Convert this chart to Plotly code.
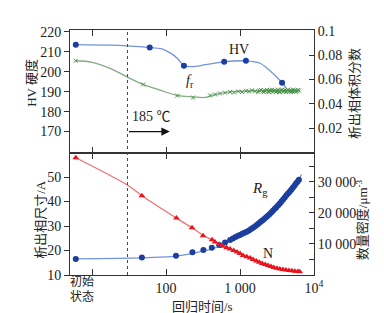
import math
import plotly.graph_objects as go
from plotly.subplots import make_subplots

# ---------------- data (time in s; 6 s = initial state) ----------------
# Top panel: hardness HV (left axis)
hv_time = [6, 60, 174, 610, 1200, 3700]
hv_val = [213.6, 212.2, 203.0, 205.0, 205.5, 194.5]
hv_fit_time = [6, 18, 30, 60, 85, 113, 140, 174, 230, 340, 610, 1200, 1860, 2540, 3700, 4200]
hv_fit_val = [213.7, 213.4, 213.0, 212.2, 211.6, 209.5, 207.0, 203.2, 202.6, 203.6, 205.0, 205.5, 204.3, 200.5, 194.5, 191.8]

# Top panel: precipitate volume fraction f_r (right axis)
fr_fit_time = [6, 10, 17.5, 30.6, 49, 83, 141, 232, 336, 488, 730, 1370, 2300, 5900]
fr_fit_val = [0.0755, 0.0742, 0.0692, 0.0618, 0.0560, 0.0513, 0.0470, 0.0458, 0.0453, 0.0480, 0.0499, 0.0507, 0.0511, 0.0512]
fr_time = [6, 49, 141, 232, 393, 459, 537, 627, 733, 830, 940, 1064, 1205, 1324, 1453, 1596,
           1750, 1840, 1923, 2046, 2110, 2178, 2317, 2390, 2466, 2540, 2624, 2700, 2792, 2880,
           2971, 3060, 3162, 3260, 3365, 3470, 3581, 3690, 3810, 3930, 4055, 4180, 4315, 4450,
           4591, 4740, 4886, 5040, 5199, 5360, 5533, 5710, 5888, 6080, 6266]
fr_val = [0.0755, 0.0560, 0.0468, 0.0452, 0.0470, 0.0478, 0.0486, 0.0492, 0.0499, 0.0494, 0.0503, 0.0498, 0.0508,
          0.0502, 0.0512, 0.0504, 0.0499, 0.0510, 0.0515, 0.0505, 0.0497, 0.0509, 0.0514, 0.0502, 0.0496,
          0.0511, 0.0505, 0.0517, 0.0500, 0.0508, 0.0513, 0.0498, 0.0506, 0.0516, 0.0503, 0.0495, 0.0510,
          0.0518, 0.0501, 0.0507, 0.0514, 0.0497, 0.0509, 0.0516, 0.0502, 0.0511, 0.0498, 0.0506, 0.0517,
          0.0504, 0.0512, 0.0499, 0.0508, 0.0515, 0.0510]

# Bottom panel: precipitate size Rg (left axis, A)
rg_time = [6, 47, 136, 227, 319, 415, 525, 627, 733, 800, 870, 940, 1000, 1070, 1150, 1230, 1320,
           1410, 1500, 1600, 1700, 1800, 1900, 2000, 2120, 2250, 2380, 2520, 2660, 2800, 2950,
           3100, 3270, 3450, 3630, 3820, 4020, 4230, 4450, 4680, 4920, 5170, 5430, 5700, 5980, 6250]
rg_val = [16.5, 17.1, 17.9, 19.3, 20.2, 21.1, 22.2, 23.3, 24.3, 24.9, 25.5, 26.0, 26.3, 26.8, 27.2,
          27.7, 28.2, 28.8, 29.3, 29.9, 30.5, 31.1, 31.7, 32.2, 32.9, 33.6, 34.2, 34.9, 35.6, 36.3,
          37.0, 37.7, 38.5, 39.2, 40.0, 40.8, 41.6, 42.5, 43.3, 44.0, 44.8, 45.6, 46.4, 47.3, 48.1, 48.9]
rg_fit_time = [6, 47, 138, 227, 319, 415, 525, 627, 733, 1000, 1683, 2297, 3133, 4276, 5834, 6800]
rg_fit_val = [16.6, 17.0, 17.7, 18.8, 19.8, 20.7, 21.8, 22.9, 24.0, 26.2, 30.3, 33.8, 37.9, 42.8, 47.9, 51.0]

# Bottom panel: number density N (right axis, um^-3)
n_time = [6, 47, 138, 224, 316, 419, 459, 520, 588, 660, 733, 820, 910, 1000, 1100, 1230, 1370,
          1500, 1660, 1820, 1990, 2190, 2390, 2620, 2860, 3150, 3450, 3800, 4170, 4580, 5010,
          5500, 6050, 6400]
n_val = [37700, 25500, 18300, 15200, 12600, 11300, 10650, 9900, 9260, 8800, 8390, 7900, 7420, 6900,
         6300, 5850, 5480, 5000, 4520, 4100, 3710, 3380, 3060, 2720, 2420, 2170, 1940, 1760, 1610,
         1470, 1350, 1240, 1130, 1080]
n_fit_time = [6, 30.6, 47, 138, 224, 316, 419, 590, 733, 910, 1100, 1370, 1660, 1990, 2390, 2860,
              3450, 4170, 5010, 6050, 6800]
n_fit_val = [37700, 28800, 25500, 18300, 15200, 12800, 11300, 9300, 8400, 7400, 6400, 5500, 4500,
             3750, 3050, 2450, 1950, 1600, 1350, 1150, 1050]

x_tickvals = [10, 100, 1000, 10000]
x_ticktext = ["", "100", "1 000", "10<sup>4</sup>"]
hv_ticks = [170, 180, 190, 200, 210, 220]
fr_ticks = [0.02, 0.04, 0.06, 0.08, 0.1]
fr_ticktext = ["0.02", "0.04", "0.06", "0.08", "0.1"]
size_ticks = [10, 20, 30, 40, 50]
n_ticks = [5000, 10000, 15000, 20000, 25000, 30000, 35000]
n_ticktext = ["", "10 000", "", "20 000", "", "30 000", ""]
reversion_start = 30

# ---------------- figure ----------------
SERIF = "Liberation Serif, Times New Roman, Noto Sans CJK SC, serif"
CJK = "Liberation Serif, Noto Sans CJK SC, sans-serif"
AX = "#333333"

fig = make_subplots(rows=2, cols=1, shared_xaxes=True, vertical_spacing=0,
                    specs=[[{"secondary_y": True}], [{"secondary_y": True}]])

BLUE_L = "#7393dc"
BLUE_M = "#1c3e9e"
GREEN_L = "#86aa86"
GREEN_M = "#4a934a"
RED_L = "#f27070"
RED_M = "#e8141e"

fig.add_trace(go.Scatter(x=fr_fit_time, y=fr_fit_val, mode="lines", line=dict(color=GREEN_L, width=1.3, shape="spline", smoothing=1.0)), row=1, col=1, secondary_y=True)
fig.add_trace(go.Scatter(x=fr_time, y=fr_val, mode="markers", marker=dict(symbol="x-thin", size=4, line=dict(color=GREEN_M, width=1))), row=1, col=1, secondary_y=True)
fig.add_trace(go.Scatter(x=hv_fit_time, y=hv_fit_val, mode="lines", line=dict(color=BLUE_L, width=1.3, shape="spline", smoothing=1.0)), row=1, col=1, secondary_y=False)
fig.add_trace(go.Scatter(x=hv_time, y=hv_val, mode="markers", marker=dict(symbol="circle", size=6, color=BLUE_M)), row=1, col=1, secondary_y=False)

fig.add_trace(go.Scatter(x=n_fit_time, y=n_fit_val, mode="lines", line=dict(color=RED_L, width=1.3, shape="spline", smoothing=0.8)), row=2, col=1, secondary_y=True)
fig.add_trace(go.Scatter(x=n_time, y=n_val, mode="markers", marker=dict(symbol="triangle-up", size=6, color=RED_M)), row=2, col=1, secondary_y=True)
fig.add_trace(go.Scatter(x=rg_fit_time, y=rg_fit_val, mode="lines", line=dict(color=BLUE_L, width=1.3, shape="spline", smoothing=0.8)), row=2, col=1, secondary_y=False)
fig.add_trace(go.Scatter(x=rg_time, y=rg_val, mode="markers", marker=dict(symbol="circle", size=6, color=BLUE_M)), row=2, col=1, secondary_y=False)

xcommon = dict(type="log", range=[0.70, 4.0], domain=[0, 1], tickvals=x_tickvals, ticks="inside", ticklen=6,
               tickcolor=AX, showline=True, linecolor=AX, linewidth=1, mirror="ticks", automargin=False,
               showgrid=False, zeroline=False, tickfont=dict(family=SERIF, size=14, color="#222"))
fig.update_xaxes(**xcommon)
fig.update_xaxes(showticklabels=False, row=1, col=1)
fig.update_xaxes(ticktext=x_ticktext, row=2, col=1)

ycommon = dict(showline=True, linecolor=AX, linewidth=1, showgrid=False, zeroline=False, automargin=False,
               tickcolor=AX, tickfont=dict(family=SERIF, size=14, color="#222"))
fig.update_yaxes(range=[159.5, 221], tickvals=hv_ticks, ticks="outside", ticklen=5, **ycommon, row=1, col=1, secondary_y=False)
fig.update_yaxes(range=[0, 0.1008], tickvals=fr_ticks, ticktext=fr_ticktext, ticks="inside", ticklen=5, **ycommon, row=1, col=1, secondary_y=True)
fig.update_yaxes(range=[10, 60], tickvals=size_ticks, ticks="outside", ticklen=5, **ycommon, row=2, col=1, secondary_y=False)
fig.update_yaxes(range=[0, 39400], tickvals=n_ticks, ticktext=n_ticktext, ticks="inside", ticklen=5, **ycommon, row=2, col=1, secondary_y=True)

# dashed line marking start of reversion
fig.add_shape(type="line", xref="x", yref="paper", x0=reversion_start, x1=reversion_start, y0=0, y1=1,
              line=dict(color="#444", width=1, dash="dot"))

lg = math.log10
TXT = dict(showarrow=False, xanchor="center", yanchor="middle")
ann = [
    dict(x=lg(112), y=170, ax=lg(reversion_start), ay=170, xref="x", yref="y", axref="x", ayref="y",
         text="", showarrow=True, arrowhead=2, arrowsize=1.4, arrowwidth=1.2, arrowcolor="#111"),
    dict(x=1.515, y=177.5, xref="x", yref="y", text="185 ℃", showarrow=False, xanchor="left", yanchor="middle",
         font=dict(family=SERIF, size=14, color="#222")),
    dict(x=2.99, y=211, xref="x", yref="y", text="HV", **TXT,
         font=dict(family=SERIF, size=14, color="#222")),
    dict(x=2.32, y=195, xref="x", yref="y", text="<i>f</i><sub>r</sub>", **TXT,
         font=dict(family=SERIF, size=14, color="#222")),
    dict(x=3.27, y=45, xref="x2", yref="y3", text="<i>R</i><sub>g</sub>", **TXT,
         font=dict(family=SERIF, size=15, color="#222")),
    dict(x=3.38, y=18.6, xref="x2", yref="y3", text="N", **TXT,
         font=dict(family=SERIF, size=14, color="#222")),
    dict(x=0.86, y=-0.029, xref="x2", yref="paper", text="初始", borderpad=0, **TXT,
         font=dict(family=CJK, size=12, color="#222")),
    dict(x=0.86, y=-0.088, xref="x2", yref="paper", text="状态", borderpad=0, **TXT,
         font=dict(family=CJK, size=12, color="#222")),
    dict(x=0.545, y=-0.127, xref="paper", yref="paper", text="回归时间/s", **TXT,
         font=dict(family=CJK, size=13, color="#222")),
    dict(x=-0.156, y=0.784, xref="paper", yref="paper", text="HV 硬度", textangle=-90, **TXT,
         font=dict(family=CJK, size=13, color="#222")),
    dict(x=-0.119, y=0.229, xref="paper", yref="paper", text="析出相尺寸/A", textangle=-90, **TXT,
         font=dict(family=CJK, size=13, color="#222")),
    dict(x=1.168, y=0.743, xref="paper", yref="paper", text="析出相体积分数", textangle=-90, **TXT,
         font=dict(family=CJK, size=13, color="#222")),
    dict(x=1.197, y=0.224, xref="paper", yref="paper", text="数量密度/μm<sup>-3</sup>", textangle=-90, **TXT,
         font=dict(family=CJK, size=13, color="#222")),
]
fig.update_layout(annotations=ann)

# the page body adds an 8 px offset, so the figure is 8 px smaller and margins are shifted
fig.update_layout(width=376, height=305, margin=dict(l=62, r=70, t=22, b=38, autoexpand=False),
                  paper_bgcolor="white", plot_bgcolor="white", showlegend=False)

fig.write_html("out.html")
